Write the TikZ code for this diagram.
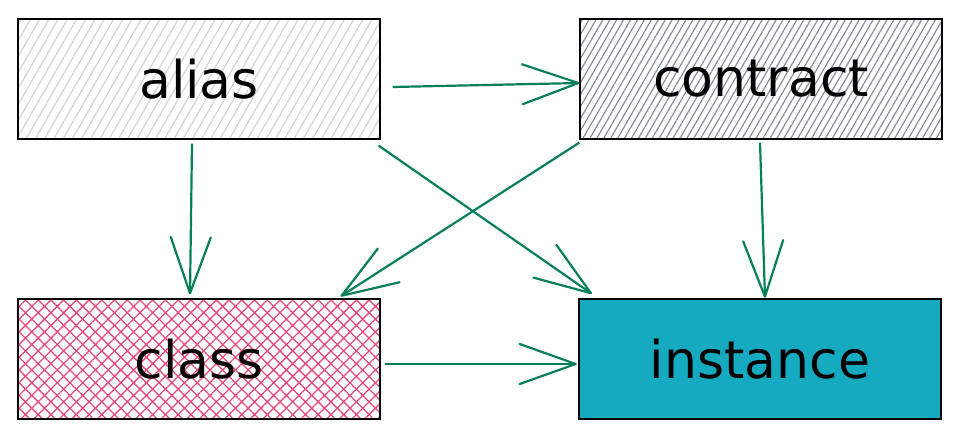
\documentclass[tikz,border=0pt]{standalone}
\usepackage{fontspec}
\setmainfont{DejaVu Sans}
\usetikzlibrary{arrows.meta}
\usetikzlibrary{patterns.meta}
\definecolor{linkgreen}{HTML}{087F5B}
\definecolor{hatchlight}{HTML}{CED4DA}
\definecolor{hatchdark}{HTML}{868E96}
\definecolor{hatchpink}{HTML}{E64980}
\definecolor{fillteal}{HTML}{15AABF}

\begin{document}
\begin{tikzpicture}[x=1pt,y=1pt,
  every node/.style={draw,line width=2.4pt,minimum width=362pt,minimum height=120pt,
    inner sep=0pt,font=\fontsize{52}{60}\selectfont},
  conn/.style={draw=linkgreen,line width=2.2pt,
    -{Straight Barb[length=56pt,width=40pt,round]}}]
\useasboundingbox (0,0) rectangle (960,440);
\node[pattern={Lines[angle=60,distance=8pt,line width=1.2pt]},pattern color=hatchlight]
  (alias) at (199,361) {alias};
\node[pattern={Lines[angle=60,distance=6pt,line width=1.2pt]},pattern color=hatchdark]
  (contract) at (761,361) {contract};
\node[pattern={Hatch[angle=45,distance=9pt,line width=1.3pt]},pattern color=hatchpink]
  (class) at (199,81) {class};
\node[fill=fillteal] (instance) at (760,81) {instance};
% connectors
\draw[conn] ([shift={(12,-8)}]alias.east) -- ([yshift=-4pt]contract.west);
\draw[conn] ([shift={(-7,-4)}]alias.south) -- ([shift={(-9,4)}]class.north);
\draw[conn] ([shift={(-2,-6)}]alias.south east) -- ([shift={(14,4)}]instance.north west);
\draw[conn] ([yshift=-3pt]contract.south west) -- ([shift={(-40,2)}]class.north east);
\draw[conn] ([shift={(-1,-3)}]contract.south) -- ([xshift=5pt]instance.north);
\draw[conn] ([shift={(4,-5)}]class.east) -- ([shift={(-1,-5)}]instance.west);
\end{tikzpicture}
\end{document}
